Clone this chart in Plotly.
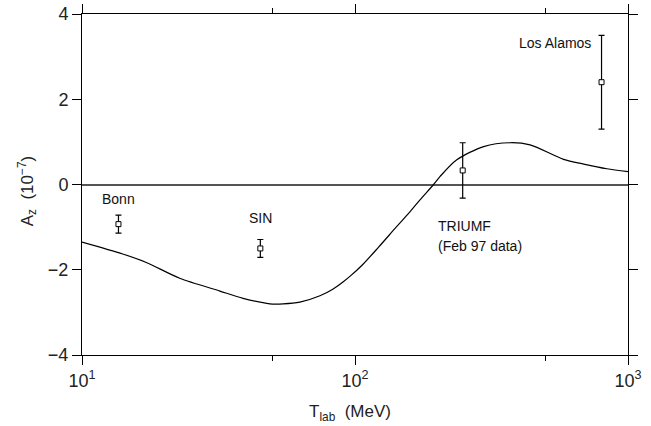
import plotly.graph_objects as go

# Theory curve (T_lab in MeV, A_z in 1e-7)
curve_T = [10, 14.1, 17.2, 22.8, 32.0, 38.9, 48.8, 54.6, 62.8, 74.4, 83.2, 90.6,
           96, 107, 122, 142, 160, 173, 194, 205, 236, 296, 370, 438, 581, 688, 837, 1000]
curve_Az = [-1.35, -1.63, -1.83, -2.20, -2.50, -2.67, -2.80, -2.80, -2.76, -2.61, -2.45, -2.28,
            -2.15, -1.87, -1.47, -0.99, -0.62, -0.36, 0.0, 0.19, 0.58, 0.89, 0.98, 0.93,
            0.59, 0.48, 0.37, 0.30]

# Experimental data
exp_names = ["Bonn", "SIN", "TRIUMF", "Los Alamos"]
exp_T = [13.6, 45, 248, 800]
exp_Az = [-0.93, -1.50, 0.33, 2.40]
exp_err = [0.21, 0.21, 0.65, 1.10]

x_tickvals = [10, 100, 1000]
x_ticktext = ["10<sup>1</sup>", "10<sup>2</sup>", "10<sup>3</sup>"]
x_minor = [50, 500]
y_tickvals = [-4, -2, 0, 2, 4]
y_ticktext = ["\u22124", "\u22122", "0", "2", "4"]

FONT = "Liberation Sans"
fig = go.Figure()
fig.add_trace(go.Scatter(x=curve_T, y=curve_Az, mode="lines",
                         line=dict(color="black", width=1.2, shape="spline", smoothing=0.8),
                         showlegend=False, hoverinfo="skip"))
fig.add_trace(go.Scatter(x=exp_T, y=exp_Az, mode="markers",
                         marker=dict(symbol="square", size=5, color="white",
                                     line=dict(color="black", width=1)),
                         error_y=dict(type="data", array=exp_err, color="black",
                                      thickness=1.2, width=3),
                         showlegend=False))

axis_common = dict(showline=True, linecolor="black", linewidth=1, mirror="ticks",
                   ticks="outside", ticklen=9, tickcolor="black", tickwidth=1,
                   showgrid=False, automargin=False,
                   tickfont=dict(family=FONT, size=18, color="#222"))

fig.update_xaxes(type="log", range=[1, 3], tickmode="array", tickvals=x_tickvals,
                 ticktext=x_ticktext, zeroline=False,
                 minor=dict(tickmode="array", tickvals=x_minor, ticks="outside",
                            ticklen=5, tickcolor="black", tickwidth=1, showgrid=False),
                 **axis_common)
fig.update_yaxes(range=[-4, 4], tickmode="array", tickvals=y_tickvals,
                 ticktext=y_ticktext, zeroline=True, zerolinecolor="#555",
                 zerolinewidth=1.5, **axis_common)

ann_font = dict(family=FONT, size=14, color="#111")
anns = [
    dict(x=1.1335, y=-0.35, text="Bonn", xanchor="center", yanchor="middle"),
    dict(x=1.653, y=-0.78, text="SIN", xanchor="center", yanchor="middle"),
    dict(x=2.297, y=-0.98, text="TRIUMF", xanchor="left", yanchor="middle"),
    dict(x=2.297, y=-1.45, text="(Feb 97 data)", xanchor="left", yanchor="middle"),
    dict(x=2.873, y=3.32, text="Los Alamos", xanchor="right", yanchor="middle"),
]
for a in anns:
    fig.add_annotation(xref="x", yref="y", showarrow=False, font=ann_font, **a)

fig.add_annotation(xref="paper", yref="paper", x=0.49, y=0, yshift=-58,
                   text="T<sub>lab</sub>  (MeV)", showarrow=False,
                   font=dict(family=FONT, size=17, color="#222"),
                   xanchor="center", yanchor="middle")
fig.add_annotation(xref="paper", yref="paper", x=0, xshift=-55, y=0.48,
                   text="A<sub>z</sub>  (10<sup>\u22127</sup>)", showarrow=False,
                   textangle=-90, font=dict(family=FONT, size=17, color="#222"),
                   xanchor="center", yanchor="middle")

fig.update_layout(width=651, height=426, plot_bgcolor="white", paper_bgcolor="white",
                  margin=dict(l=82, r=23, t=14, b=71), showlegend=False)

fig.write_html("out.html", config={"displayModeBar": False},
               post_script="document.body.style.margin='0';document.body.style.overflow='hidden';")
